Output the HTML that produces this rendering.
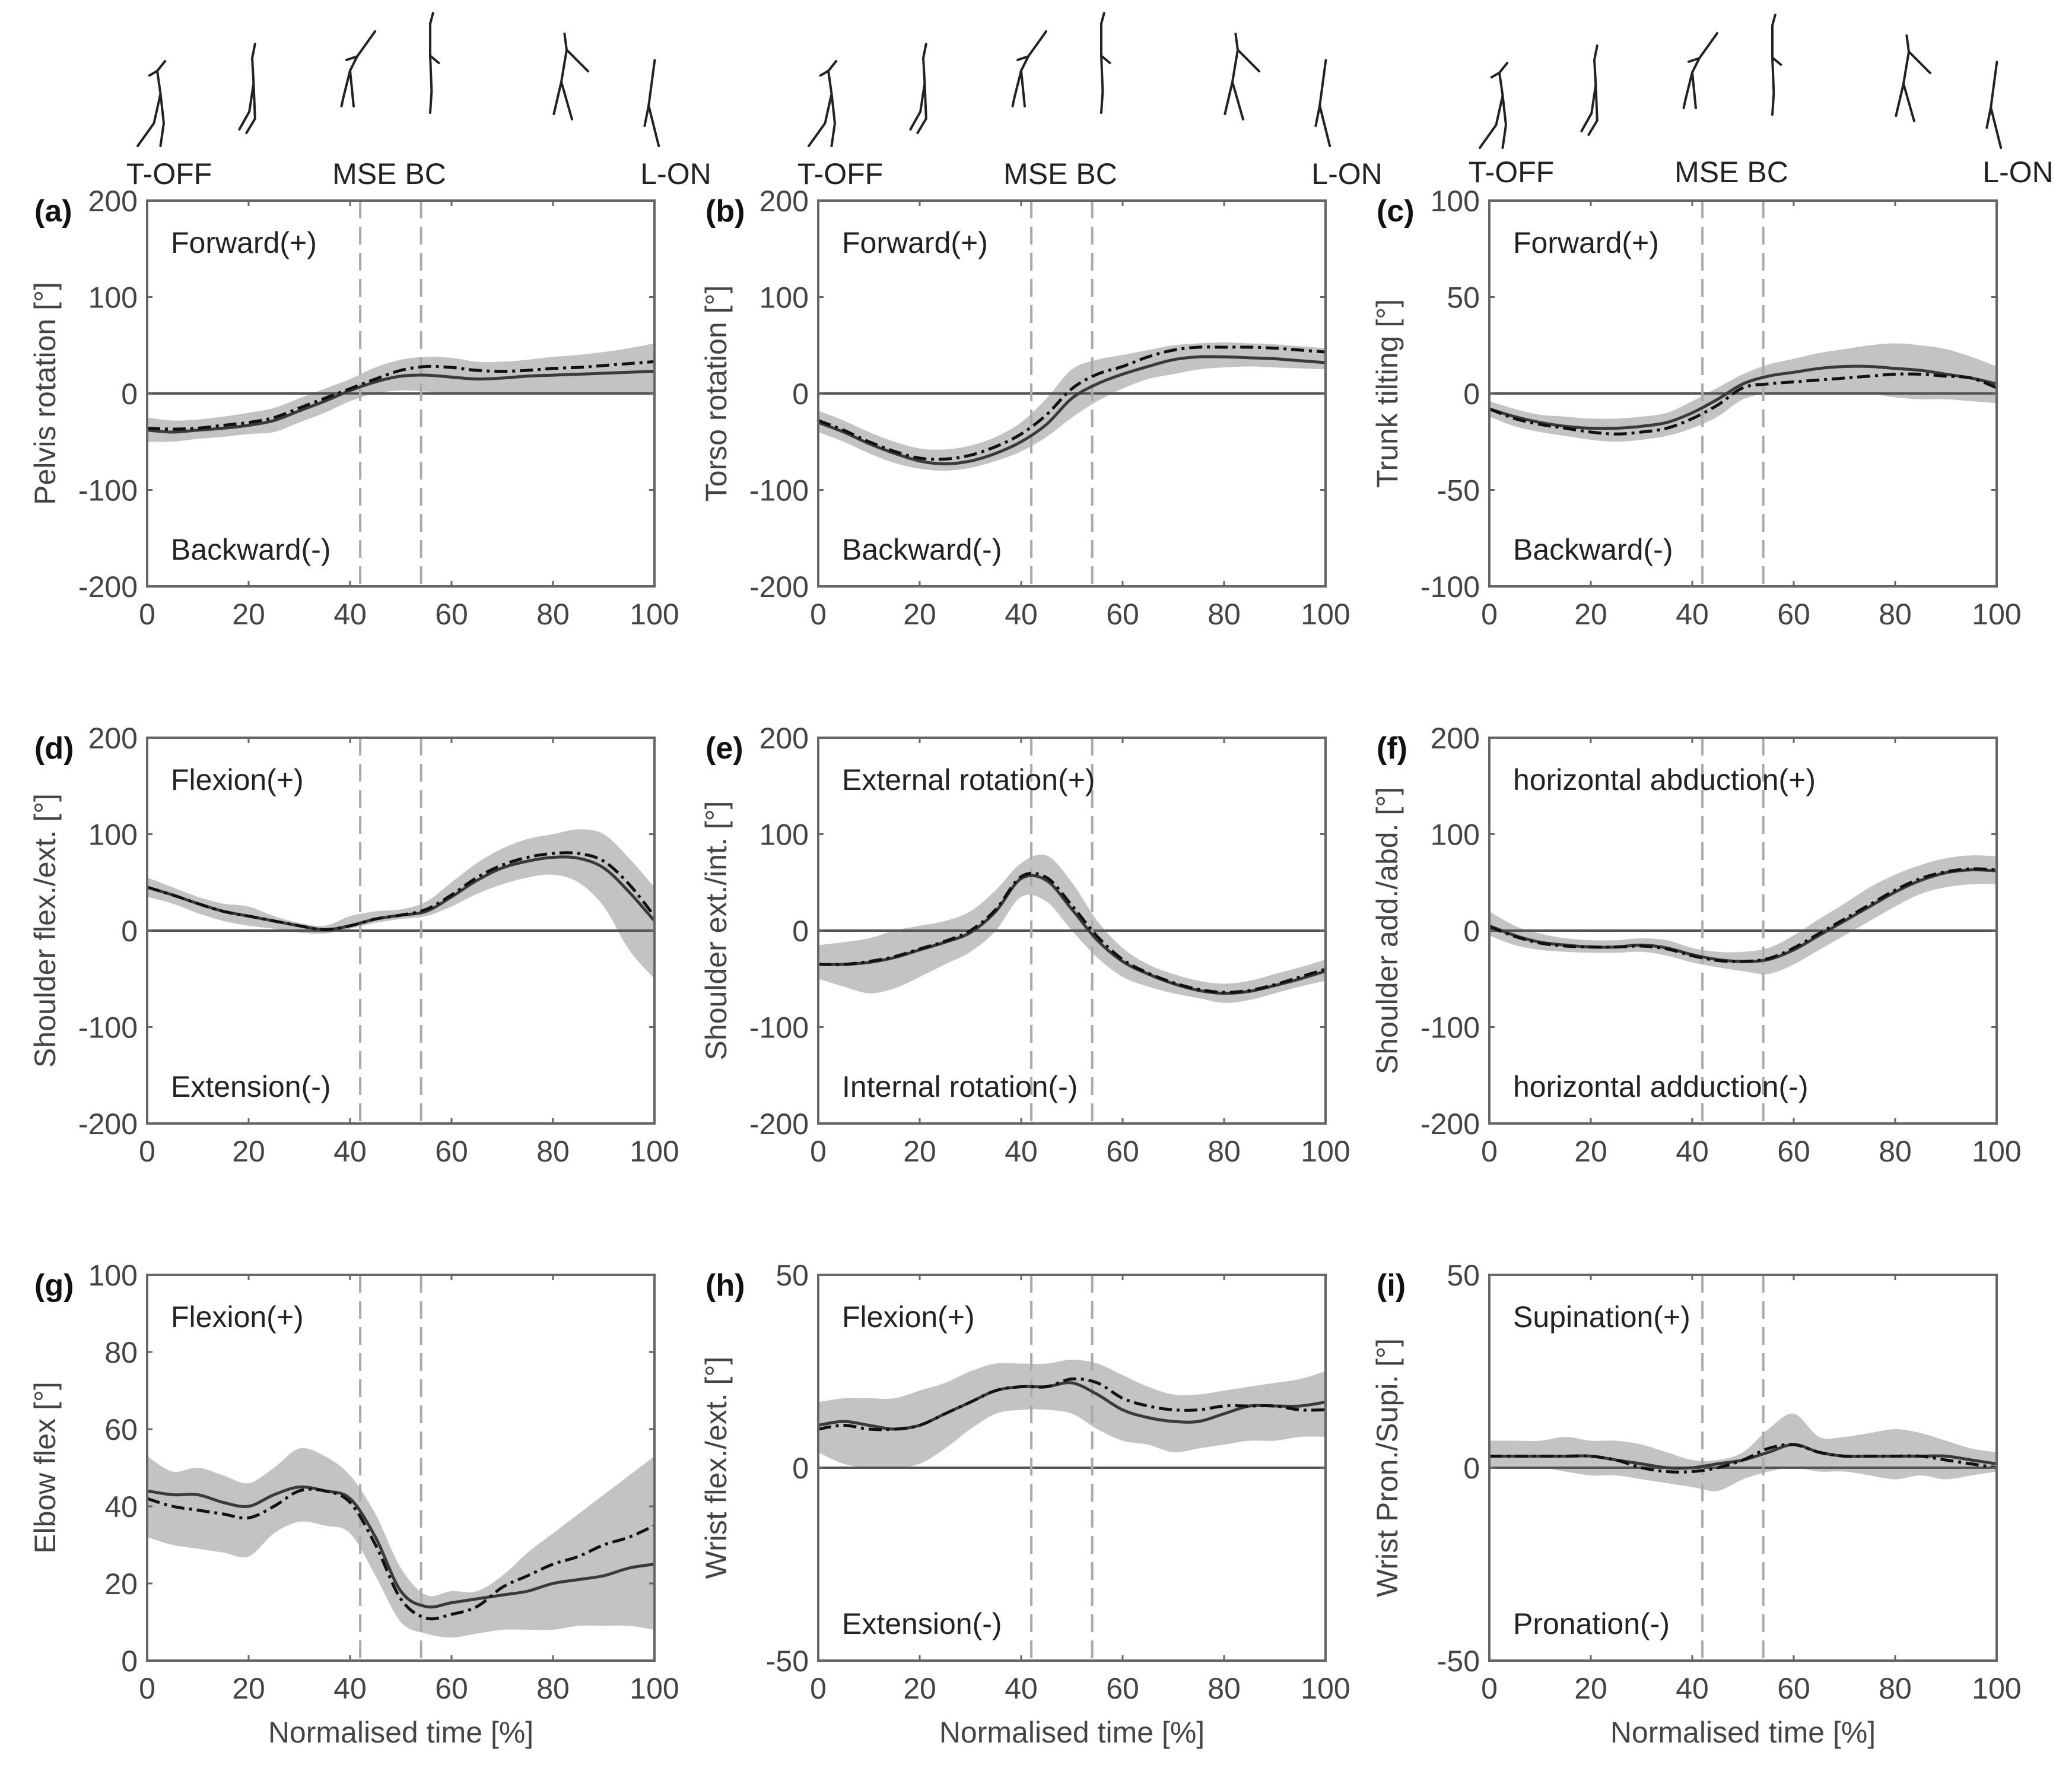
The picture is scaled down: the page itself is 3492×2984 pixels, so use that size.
<!DOCTYPE html>
<html><head><meta charset="utf-8">
<style>
html,body{margin:0;padding:0;background:#fff;}
svg{display:block;}
text{font-family:"Liberation Sans",Arial,sans-serif;}
</style></head>
<body>
<svg id="fig" width="3492" height="2984" viewBox="0 0 3492 2984" xmlns="http://www.w3.org/2000/svg"></svg>
<script>
// ---------- data (x = 0,5,...,100 % normalised time) ----------
const xPct = [0,5,10,15,20,25,30,35,40,45,50,55,60,65,70,75,80,85,90,95,100];
const eventLines = [42,54];
const phaseLabels = ["T-OFF","MSE BC","L-ON"];

const aSolid = [-38,-40,-38,-36,-33,-28,-18,-8,3,12,18,19,17,15,16,18,19,20,21,22,23];
const aDash  = [-36,-37,-36,-33,-30,-25,-15,-5,5,15,24,28,27,24,23,24,26,27,29,31,33];
const aUpper = [-25,-28,-27,-24,-20,-15,-5,5,15,27,35,38,37,33,33,35,38,40,43,47,52];
const aLower = [-50,-50,-47,-45,-42,-40,-30,-20,-8,0,3,2,0,0,0,0,0,0,0,0,0];

const bSolid = [-30,-40,-52,-62,-70,-73,-70,-62,-50,-32,-5,10,20,28,35,38,38,37,36,34,32];
const bDash  = [-28,-38,-50,-60,-67,-68,-64,-55,-42,-22,5,20,28,38,45,48,48,48,47,45,43];
const bUpper = [-18,-28,-40,-50,-57,-58,-54,-45,-30,-5,25,35,40,45,50,52,53,52,51,49,47];
const bLower = [-40,-50,-62,-72,-78,-80,-77,-70,-60,-45,-25,-8,5,15,20,25,27,28,27,26,25];

const cSolid = [-8,-12,-15,-17,-18,-18,-17,-15,-10,-3,5,9,11,13,14,14,13,12,10,8,5];
const cDash  = [-8,-13,-16,-18,-20,-21,-20,-18,-13,-6,3,5,6,7,8,9,10,10,9,8,3];
const cUpper = [-4,-8,-11,-12,-13,-13,-12,-10,-4,3,10,15,18,21,23,25,26,25,23,19,14];
const cLower = [-12,-17,-20,-22,-24,-25,-24,-22,-18,-12,-3,0,0,0,0,0,-2,-3,-3,-4,-5];

const dSolid = [45,37,28,20,15,10,5,1,5,12,16,20,35,52,65,72,76,75,65,40,10];
const dDash  = [45,37,28,20,15,10,5,1,5,12,16,22,37,55,68,76,80,80,72,48,15];
const dUpper = [55,45,35,28,25,15,8,5,15,20,22,30,50,70,85,95,100,105,100,75,45];
const dLower = [35,28,18,10,5,2,-2,-3,2,8,12,15,25,38,48,55,58,50,25,-20,-50];

const eSolid = [-35,-35,-33,-28,-20,-12,-2,20,54,52,22,-10,-32,-45,-55,-62,-65,-63,-57,-50,-42];
const eDash  = [-35,-35,-32,-27,-19,-11,0,22,56,55,26,-6,-30,-44,-54,-61,-64,-62,-56,-48,-40];
const eUpper = [-15,-12,-8,0,5,10,20,42,70,78,50,10,-18,-35,-45,-52,-55,-52,-45,-38,-30];
const eLower = [-50,-58,-65,-60,-48,-35,-22,0,35,30,0,-28,-48,-58,-65,-70,-75,-72,-65,-58,-52];

const fSolid = [5,-5,-12,-15,-17,-17,-15,-18,-25,-30,-32,-30,-20,-5,10,25,40,52,60,63,62];
const fDash  = [4,-6,-13,-16,-17,-17,-16,-19,-26,-31,-32,-29,-18,-3,12,27,42,54,61,64,63];
const fUpper = [20,5,-3,-8,-10,-10,-8,-10,-18,-22,-22,-18,-5,12,28,45,58,68,75,78,77];
const fLower = [-5,-15,-20,-22,-23,-23,-22,-26,-33,-38,-42,-45,-35,-20,-5,10,25,38,45,48,48];

const gSolid = [44,43,43,41,40,43,45,44,42,32,18,14,15,16,17,18,20,21,22,24,25];
const gDash  = [42,40,39,38,37,40,44,44,41,30,16,11,12,14,19,22,25,27,30,32,35];
const gUpper = [53,49,50,48,46,50,55,53,48,38,24,17,18,18,22,28,33,38,43,48,53];
const gLower = [32,30,29,28,27,33,36,35,33,22,10,7,6,7,8,8,8,9,9,9,8];

const hSolid = [11,12,11,10,11,14,17,20,21,21,22,19,15,13,12,12,14,16,16,16,17];
const hDash  = [10,11,10,10,11,14,17,20,21,21,23,22,18,16,15,15,16,16,16,15,15];
const hUpper = [17,18,18,18,20,22,25,27,27,27,28,27,24,21,19,19,20,21,22,23,25];
const hLower = [4,1,0,0,1,5,10,14,15,15,14,10,7,6,4,5,6,7,7,8,8];

const iSolid = [3,3,3,3,3,2,1,0,0,1,2,4,6,4,3,3,3,3,3,2,1];
const iDash  = [3,3,3,3,3,2,0,-1,-1,0,2,5,6,4,3,3,3,3,2,1,0];
const iUpper = [7,7,7,8,7,7,6,4,2,2,4,10,14,8,8,9,10,9,7,5,4];
const iLower = [0,0,0,-1,-2,-2,-3,-4,-5,-6,-3,-1,0,-1,-1,-2,-3,-2,-3,-2,-1];

const xTicks = [0,20,40,60,80,100];
const ticks200 = [-200,-100,0,100,200];
const ticks100 = [-100,-50,0,50,100];
const ticksElbow = [0,20,40,60,80,100];
const ticks50 = [-50,0,50];

const panels = [
 {id:"a",col:0,row:0,ymin:-200,ymax:200,yt:ticks200,title:"Pelvis rotation [°]",top:"Forward(+)",bot:"Backward(-)",s:aSolid,d:aDash,u:aUpper,l:aLower},
 {id:"b",col:1,row:0,ymin:-200,ymax:200,yt:ticks200,title:"Torso rotation [°]",top:"Forward(+)",bot:"Backward(-)",s:bSolid,d:bDash,u:bUpper,l:bLower},
 {id:"c",col:2,row:0,ymin:-100,ymax:100,yt:ticks100,title:"Trunk tilting [°]",top:"Forward(+)",bot:"Backward(-)",s:cSolid,d:cDash,u:cUpper,l:cLower},
 {id:"d",col:0,row:1,ymin:-200,ymax:200,yt:ticks200,title:"Shoulder flex./ext. [°]",top:"Flexion(+)",bot:"Extension(-)",s:dSolid,d:dDash,u:dUpper,l:dLower},
 {id:"e",col:1,row:1,ymin:-200,ymax:200,yt:ticks200,title:"Shoulder ext./int. [°]",top:"External rotation(+)",bot:"Internal rotation(-)",s:eSolid,d:eDash,u:eUpper,l:eLower},
 {id:"f",col:2,row:1,ymin:-200,ymax:200,yt:ticks200,title:"Shoulder add./abd. [°]",top:"horizontal abduction(+)",bot:"horizontal adduction(-)",s:fSolid,d:fDash,u:fUpper,l:fLower},
 {id:"g",col:0,row:2,ymin:0,ymax:100,yt:ticksElbow,title:"Elbow flex [°]",top:"Flexion(+)",bot:"",s:gSolid,d:gDash,u:gUpper,l:gLower},
 {id:"h",col:1,row:2,ymin:-50,ymax:50,yt:ticks50,title:"Wrist flex./ext. [°]",top:"Flexion(+)",bot:"Extension(-)",s:hSolid,d:hDash,u:hUpper,l:hLower},
 {id:"i",col:2,row:2,ymin:-50,ymax:50,yt:ticks50,title:"Wrist Pron./Supi. [°]",top:"Supination(+)",bot:"Pronation(-)",s:iSolid,d:iDash,u:iUpper,l:iLower}
];

// ---------- layout ----------
const NS="http://www.w3.org/2000/svg";
const svg=document.getElementById("fig");
const colX=[248,1379,2510], rowY=[338,1243,2148], PW=855, PH=650;
function mk(tag,attrs,parent){const e=document.createElementNS(NS,tag);for(const k in attrs)e.setAttribute(k,attrs[k]);(parent||svg).appendChild(e);return e;}
function smooth(pts){let d="M"+pts[0][0].toFixed(1)+","+pts[0][1].toFixed(1);
 for(let i=0;i<pts.length-1;i++){const p0=pts[Math.max(0,i-1)],p1=pts[i],p2=pts[i+1],p3=pts[Math.min(pts.length-1,i+2)];
  const c1=[p1[0]+(p2[0]-p0[0])/6,p1[1]+(p2[1]-p0[1])/6],c2=[p2[0]-(p3[0]-p1[0])/6,p2[1]-(p3[1]-p1[1])/6];
  d+=" C"+c1[0].toFixed(1)+","+c1[1].toFixed(1)+" "+c2[0].toFixed(1)+","+c2[1].toFixed(1)+" "+p2[0].toFixed(1)+","+p2[1].toFixed(1);}
 return d;}

// stick figures & phase labels
function stick(g,cx,cy,sc,pose){
 const P={
  0:[[[0,-55],[5,-20],[-5,25],[-30,60]],[[5,-20],[10,25],[5,60]],[[0,-55],[12,-70]],[[0,-55],[-12,-48]]],
  1:[[[0,-75],[2,-40],[-4,0],[-18,25]],[[2,-40],[4,10],[-8,30]],[[0,-75],[4,-95]]],
  2:[[[10,-50],[0,-30],[5,20]],[[0,-30],[-10,10],[-12,20]],[[10,-50],[35,-85]],[[10,-50],[-5,-45]]],
  3:[[[0,-95],[0,-50],[2,0],[0,30]],[[0,-50],[12,-40]],[[0,-95],[4,-110]]],
  4:[[[0,-40],[-5,-10],[5,25]],[[-5,-10],[-12,20]],[[0,-40],[20,-20]],[[0,-40],[-2,-55]]],
  5:[[[0,-40],[-4,-10],[6,30]],[[0,-40],[2,-55]],[[-4,-10],[-8,10]]]
 }[pose];
 P.forEach(pl=>{mk("polyline",{points:pl.map(p=>(cx+p[0]*sc)+","+(cy+p[1]*sc)).join(" "),fill:"none",stroke:"#222","stroke-width":4,"stroke-linejoin":"round","stroke-linecap":"round"},g);});
}
const figX=[265,425,590,725,955,1100], figY=[180,188,155,154,156,195], figS=[1.1,1.2,1.2,1.2,1.8,1.7];
for(let c=0;c<3;c++){
 const off=colX[c]-colX[0];
 const g=mk("g",{});
 
 
 for(let k=0;k<6;k++) stick(g,figX[k]+off,figY[k]+(c===2?3:0),figS[k],k);
 const lx=[285,656,1139];
 phaseLabels.forEach((t,k)=>{const tx=mk("text",{x:lx[k]+off,y:310+(c===2?-3:0),"font-size":50,fill:"#222","text-anchor":"middle"},g);tx.textContent=t;
  
  });
}

panels.forEach(p=>{
 const L=colX[p.col],T=rowY[p.row];
 const g=mk("g",{});
 
 
 const X=v=>L+v/100*PW, Y=v=>T+PH-(v-p.ymin)/(p.ymax-p.ymin)*PH;
 const up=xPct.map((x,i)=>[X(x),Y(p.u[i])]), lo=xPct.map((x,i)=>[X(x),Y(p.l[i])]).reverse();
 const bd=smooth(up)+" L"+smooth(lo).slice(1)+" Z";
 const band=mk("path",{d:bd,fill:"#c3c3c3",stroke:"none"},g);
 
 
 if(p.ymin<0){const z=mk("line",{x1:L,x2:L+PW,y1:Y(0),y2:Y(0),stroke:"#555","stroke-width":4},g);
  
  }
 eventLines.forEach(e=>{const v=mk("line",{x1:X(e),x2:X(e),y1:T,y2:T+PH,stroke:"#aaa","stroke-width":4,"stroke-dasharray":"30 14"},g);
  
  });
 const sl=mk("path",{d:smooth(xPct.map((x,i)=>[X(x),Y(p.s[i])])),fill:"none",stroke:"#3a3a3a","stroke-width":5},g);
 
 
 const dl=mk("path",{d:smooth(xPct.map((x,i)=>[X(x),Y(p.d[i])])),fill:"none",stroke:"#111","stroke-width":5,"stroke-dasharray":"22 8 5 8"},g);
 
 
 const fr=mk("rect",{x:L,y:T,width:PW,height:PH,fill:"none",stroke:"#666","stroke-width":4},g);
 
 
 xTicks.forEach(t=>{mk("line",{x1:X(t),x2:X(t),y1:T+PH,y2:T+PH-9,stroke:"#666","stroke-width":3},g);
  mk("line",{x1:X(t),x2:X(t),y1:T,y2:T+9,stroke:"#666","stroke-width":3},g);
  const tx=mk("text",{x:X(t),y:T+PH+64,"font-size":50,fill:"#444","text-anchor":"middle"},g);tx.textContent=t;
  
  });
 p.yt.forEach(t=>{mk("line",{x1:L,x2:L+9,y1:Y(t),y2:Y(t),stroke:"#666","stroke-width":3},g);
  mk("line",{x1:L+PW,x2:L+PW-9,y1:Y(t),y2:Y(t),stroke:"#666","stroke-width":3},g);
  const tx=mk("text",{x:L-16,y:Y(t)+18,"font-size":50,fill:"#444","text-anchor":"end"},g);tx.textContent=t;
  
  });
 const yt=mk("text",{x:0,y:0,"font-size":50,fill:"#444","text-anchor":"middle",transform:"translate("+(L-155)+","+(T+PH/2)+") rotate(-90)"},g);yt.textContent=p.title;
 
 
 const pl=mk("text",{x:L-190,y:T+35,"font-size":52,"font-weight":"bold",fill:"#111"},g);pl.textContent="("+p.id+")";
 
 
 const at=mk("text",{x:L+40,y:T+88,"font-size":50,fill:"#222"},g);at.textContent=p.top;
 
 
 if(p.bot){const ab=mk("text",{x:L+40,y:T+PH-45,"font-size":50,fill:"#222"},g);ab.textContent=p.bot;
  
  }
 if(p.row===2){const xt=mk("text",{x:L+PW/2,y:T+PH+138,"font-size":50,fill:"#444","text-anchor":"middle"},g);xt.textContent="Normalised time [%]";
  
  }
});
</script>
</body></html>
